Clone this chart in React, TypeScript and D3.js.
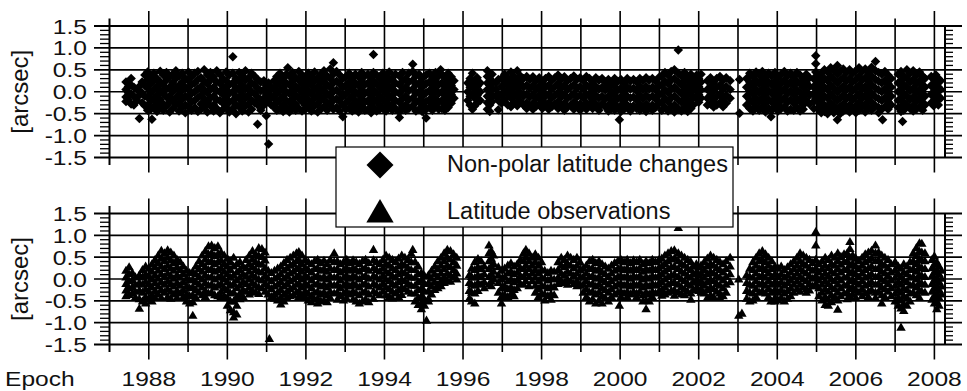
import React from "react";
import * as d3 from "d3";

// ---------- data ----------
// each column: [epoch (year), value1, value2, ...] in arcsec
const nonPolarColumns: number[][] = [
  [1987.42, 0.22, 0.05, -0.12, -0.22], [1987.48, 0.12, -0.02, -0.18], [1987.55, 0.3, 0.15, -0.05, -0.28],
  [1987.62, 0.1, -0.1, -0.3], [1987.7, 0.05, -0.2], [1987.76, -0.61, 0.12, -0.08], [1987.83, 0.22, -0.02, -0.25],
  [1987.9, 0.38, 0.15, -0.1, -0.32], [1987.97, 0.45, 0.28, 0.08, -0.12, -0.3, -0.42], [1988.05, 0.35, 0.18, -0.02, -0.2, -0.4],
  [1988.08, -0.63], [1988.13, 0.42, 0.25, 0.05, -0.15, -0.33], [1988.21, 0.3, 0.12, -0.08, -0.25, -0.45],
  [1988.29, 0.47, 0.22, 0.02, -0.18, -0.36], [1988.37, 0.38, 0.15, -0.05, -0.28, -0.42], [1988.45, 0.44, 0.26, 0.06, -0.12, -0.32],
  [1988.53, 0.33, 0.1, -0.1, -0.24, -0.46], [1988.61, 0.4, 0.2, 0.0, -0.2, -0.38], [1988.69, 0.48, 0.3, 0.08, -0.14, -0.3],
  [1988.77, 0.36, 0.14, -0.06, -0.26, -0.44], [1988.85, 0.42, 0.22, 0.03, -0.17, -0.35], [1988.93, 0.3, 0.1, -0.1, -0.3, -0.48],
  [1989.01, 0.45, 0.25, 0.05, -0.15, -0.34], [1989.09, 0.35, 0.16, -0.04, -0.22, -0.42], [1989.17, 0.42, 0.2, 0.0, -0.2, -0.36],
  [1989.25, 0.46, 0.28, 0.07, -0.13, -0.45], [1989.33, 0.32, 0.12, -0.08, -0.28, -0.4], [1989.41, 0.5, 0.24, 0.04, -0.16, -0.34],
  [1989.49, 0.38, 0.18, -0.02, -0.22, -0.46], [1989.57, 0.44, 0.26, 0.06, -0.14, -0.32], [1989.65, 0.34, 0.1, -0.1, -0.3, -0.44],
  [1989.73, 0.48, 0.22, 0.02, -0.18, -0.38], [1989.81, 0.4, 0.2, 0.0, -0.2, -0.48], [1989.89, 0.3, 0.12, -0.06, -0.26, -0.4],
  [1989.97, 0.45, 0.25, 0.05, -0.15, -0.36], [1990.05, 0.38, 0.16, -0.04, -0.24, -0.46], [1990.14, 0.8, 0.42, 0.2, 0.0, -0.2, -0.38],
  [1990.22, 0.3, 0.1, -0.1, -0.3, -0.5], [1990.3, 0.44, 0.24, 0.04, -0.16, -0.34], [1990.38, 0.36, 0.14, -0.06, -0.26, -0.44],
  [1990.46, 0.48, 0.26, 0.06, -0.14, -0.32], [1990.54, 0.32, 0.12, -0.08, -0.28, -0.46], [1990.62, 0.42, 0.2, 0.0, -0.2, -0.4],
  [1990.7, 0.35, 0.15, -0.05, -0.25], [1990.77, -0.74, 0.28, 0.08, -0.12, -0.3], [1990.85, 0.22, 0.02, -0.18, -0.42],
  [1990.93, 0.25, 0.05, -0.15, -0.3], [1990.99, -0.55, 0.15, -0.05, -0.25], [1991.05, -1.19, 0.2, 0.0, -0.2],
  [1991.12, 0.1, -0.1, -0.3], [1991.19, 0.25, 0.05, -0.15, -0.35], [1991.26, 0.35, 0.15, -0.05, -0.25, -0.42],
  [1991.34, 0.42, 0.22, 0.02, -0.18, -0.38], [1991.42, 0.3, 0.1, -0.1, -0.3, -0.45], [1991.5, 0.4, 0.2, 0.0, -0.2, -0.36],
  [1991.54, 0.55], [1991.58, 0.36, 0.16, -0.04, -0.24, -0.46], [1991.66, 0.44, 0.24, 0.04, -0.16, -0.34],
  [1991.74, 0.32, 0.12, -0.08, -0.28, -0.42], [1991.82, 0.46, 0.26, 0.06, -0.14, -0.38], [1991.9, 0.38, 0.18, -0.02, -0.22, -0.44],
  [1991.98, 0.3, 0.1, -0.1, -0.3, -0.4], [1992.06, 0.42, 0.22, 0.02, -0.18, -0.36], [1992.14, 0.35, 0.15, -0.05, -0.25, -0.44],
  [1992.22, 0.45, 0.25, 0.05, -0.15, -0.32], [1992.3, 0.32, 0.12, -0.08, -0.28, -0.46], [1992.38, 0.4, 0.2, 0.0, -0.2, -0.4],
  [1992.46, 0.48, 0.28, 0.08, -0.12, -0.34], [1992.54, 0.36, 0.16, -0.04, -0.24, -0.42], [1992.62, 0.52, 0.3, 0.1, -0.1, -0.3],
  [1992.7, 0.66, 0.4, 0.2, 0.0, -0.2, -0.4], [1992.78, 0.46, 0.24, 0.04, -0.16, -0.36], [1992.86, 0.38, 0.18, -0.02, -0.22, -0.44],
  [1992.94, -0.57, 0.3, 0.1, -0.1, -0.3], [1993.02, 0.35, 0.15, -0.05, -0.25, -0.4], [1993.1, 0.42, 0.22, 0.02, -0.18, -0.38],
  [1993.18, 0.3, 0.1, -0.1, -0.3, -0.44], [1993.26, 0.4, 0.2, 0.0, -0.2, -0.36], [1993.34, 0.34, 0.14, -0.06, -0.26, -0.46],
  [1993.42, 0.44, 0.24, 0.04, -0.16, -0.34], [1993.5, 0.36, 0.16, -0.04, -0.24, -0.42], [1993.58, 0.4, 0.2, 0.0, -0.2, -0.4],
  [1993.66, 0.32, 0.12, -0.08, -0.28, -0.48], [1993.72, 0.85, 0.44, 0.24, 0.04, -0.16, -0.36], [1993.8, 0.38, 0.18, -0.02, -0.22, -0.44],
  [1993.88, 0.3, 0.1, -0.1, -0.3, -0.4], [1993.96, 0.42, 0.22, 0.02, -0.18, -0.38], [1994.04, 0.35, 0.15, -0.05, -0.25, -0.44],
  [1994.12, 0.45, 0.25, 0.05, -0.15, -0.34], [1994.2, 0.32, 0.12, -0.08, -0.28, -0.42], [1994.28, 0.4, 0.2, 0.0, -0.2, -0.38],
  [1994.38, -0.59, 0.36, 0.16, -0.04, -0.24, -0.46], [1994.46, 0.44, 0.24, 0.04, -0.16, -0.34], [1994.54, 0.3, 0.1, -0.1, -0.3, -0.42],
  [1994.62, 0.42, 0.22, 0.02, -0.18, -0.38], [1994.72, 0.63, 0.46, 0.26, 0.06, -0.14, -0.32], [1994.8, 0.36, 0.16, -0.04, -0.24, -0.44],
  [1994.88, 0.4, 0.2, 0.0, -0.2, -0.4], [1994.96, 0.3, 0.1, -0.1, -0.3, -0.45], [1995.06, -0.6, 0.38, 0.18, -0.02, -0.22, -0.4],
  [1995.14, 0.42, 0.22, 0.02, -0.18, -0.36], [1995.22, 0.34, 0.14, -0.06, -0.26, -0.42], [1995.3, 0.44, 0.24, 0.04, -0.16, -0.34],
  [1995.38, 0.36, 0.16, -0.04, -0.24, -0.4], [1995.43, 0.5], [1995.46, 0.4, 0.2, 0.0, -0.2, -0.38],
  [1995.54, 0.32, 0.12, -0.08, -0.28, -0.42], [1995.62, 0.42, 0.22, 0.02, -0.18, -0.36], [1995.7, 0.34, 0.14, -0.06, -0.26],
  [1995.77, 0.25, 0.05, -0.15], [1996.12, 0.2, 0.0, -0.2], [1996.18, 0.3, 0.1, -0.1, -0.3],
  [1996.24, 0.42, 0.18, -0.05, -0.4], [1996.3, 0.25, 0.05, -0.15, -0.32], [1996.36, 0.32, 0.12, -0.08, -0.25],
  [1996.44, 0.2, 0.0, -0.2], [1996.62, 0.48, 0.35, 0.2, 0.05, -0.1, -0.25, -0.4], [1996.68, 0.3, 0.15, 0.0, -0.15, -0.3, -0.45],
  [1996.74, 0.4, 0.22, 0.08, -0.08, -0.22], [1996.84, 0.2, 0.05, -0.1], [1996.9, 0.28, -0.05, -0.2, -0.41],
  [1996.98, 0.3, 0.12, -0.08, -0.26], [1997.06, 0.4, 0.22, 0.02, -0.18], [1997.14, 0.32, 0.14, -0.06, -0.3],
  [1997.22, 0.45, 0.26, 0.06, -0.14, -0.34], [1997.3, 0.35, 0.16, -0.04, -0.24], [1997.38, 0.48, 0.28, 0.08, -0.12, -0.32],
  [1997.46, 0.36, 0.18, -0.02, -0.22], [1997.54, 0.3, 0.1, -0.1, -0.3], [1997.62, 0.35, 0.15, -0.05, -0.25, -0.38],
  [1997.7, 0.28, 0.08, -0.12, -0.32], [1997.78, 0.34, 0.14, -0.06, -0.26, -0.4], [1997.86, 0.25, 0.05, -0.15, -0.33],
  [1997.94, 0.32, 0.12, -0.08, -0.28], [1998.02, 0.2, 0.0, -0.2, -0.38], [1998.1, 0.3, 0.1, -0.1, -0.3],
  [1998.18, 0.35, 0.15, -0.05, -0.25, -0.4], [1998.26, 0.26, 0.06, -0.14, -0.34], [1998.34, 0.32, 0.12, -0.08, -0.28],
  [1998.42, 0.38, 0.18, -0.02, -0.22, -0.38], [1998.5, 0.28, 0.08, -0.12, -0.32], [1998.58, 0.34, 0.14, -0.06, -0.26, -0.42],
  [1998.66, 0.25, 0.05, -0.15, -0.35], [1998.74, 0.3, 0.1, -0.1, -0.3], [1998.82, 0.36, 0.16, -0.04, -0.24, -0.4],
  [1998.9, 0.28, 0.08, -0.12, -0.3], [1998.98, 0.32, 0.12, -0.08, -0.28, -0.42], [1999.06, 0.26, 0.06, -0.14, -0.34],
  [1999.14, 0.35, 0.15, -0.05, -0.25, -0.4], [1999.22, 0.3, 0.1, -0.1, -0.3], [1999.3, 0.22, 0.02, -0.18, -0.38],
  [1999.38, 0.32, 0.12, -0.08, -0.28], [1999.46, 0.26, 0.06, -0.14, -0.34, -0.42], [1999.54, 0.3, 0.1, -0.1, -0.28],
  [1999.62, 0.22, 0.04, -0.16, -0.34], [1999.7, 0.28, 0.1, -0.1, -0.3, -0.44], [1999.78, 0.2, 0.0, -0.2, -0.38],
  [1999.86, 0.3, 0.12, -0.08, -0.28, -0.42], [1999.94, 0.24, 0.04, -0.16, -0.36], [1999.98, -0.64],
  [2000.02, 0.28, 0.08, -0.12, -0.32, -0.45], [2000.1, 0.2, 0.0, -0.2, -0.4], [2000.18, 0.3, 0.1, -0.1, -0.3],
  [2000.26, 0.24, 0.06, -0.14, -0.34, -0.44], [2000.34, 0.28, 0.08, -0.12, -0.32], [2000.42, 0.22, 0.02, -0.18, -0.38],
  [2000.5, 0.3, 0.12, -0.08, -0.28, -0.42], [2000.58, 0.25, 0.05, -0.15, -0.35], [2000.66, 0.32, 0.12, -0.08, -0.28, -0.45],
  [2000.74, 0.26, 0.06, -0.14, -0.34], [2000.82, 0.3, 0.1, -0.1, -0.3, -0.42], [2000.9, 0.24, 0.04, -0.16, -0.36],
  [2000.98, 0.32, 0.12, -0.08, -0.28], [2001.06, 0.36, 0.16, -0.04, -0.24, -0.42], [2001.14, 0.44, 0.24, 0.04, -0.16, -0.36],
  [2001.22, 0.38, 0.18, -0.02, -0.22, -0.44], [2001.3, 0.46, 0.26, 0.06, -0.14, -0.34], [2001.38, 0.5, 0.3, 0.1, -0.1, -0.3, -0.46],
  [2001.48, 0.95, 0.42, 0.22, 0.02, -0.18, -0.38], [2001.56, 0.36, 0.16, -0.04, -0.24, -0.44], [2001.64, 0.44, 0.24, 0.04, -0.16, -0.36],
  [2001.72, 0.32, 0.12, -0.08, -0.28, -0.45], [2001.8, 0.4, 0.2, 0.0, -0.2, -0.38], [2001.86, 0.3, 0.1, -0.1, -0.3],
  [2001.95, 0.38, 0.2, 0.02, -0.15], [2002.0, 0.3, 0.12, -0.06, -0.24], [2002.06, 0.4, 0.22, 0.04, -0.14],
  [2002.22, 0.25, 0.05, -0.15, -0.3], [2002.3, 0.32, 0.12, -0.08, -0.28], [2002.38, 0.22, 0.02, -0.18, -0.35],
  [2002.46, 0.3, 0.1, -0.1, -0.3], [2002.54, 0.35, 0.15, -0.05, -0.25], [2002.62, 0.26, 0.06, -0.14, -0.34],
  [2002.7, 0.32, 0.12, -0.08, -0.26], [2002.8, 0.25, 0.05, -0.15], [2003.04, 0.28, -0.49],
  [2003.22, 0.3, 0.1, -0.1, -0.3], [2003.3, 0.42, 0.22, 0.02, -0.18, -0.38], [2003.38, 0.35, 0.15, -0.05, -0.25, -0.44],
  [2003.46, 0.45, 0.25, 0.05, -0.15, -0.35], [2003.54, 0.38, 0.18, -0.02, -0.22, -0.42], [2003.62, 0.46, 0.26, 0.06, -0.14, -0.34],
  [2003.7, 0.34, 0.14, -0.06, -0.26, -0.46], [2003.78, 0.42, 0.22, 0.02, -0.18, -0.38], [2003.84, -0.57],
  [2003.86, 0.36, 0.16, -0.04, -0.24, -0.42], [2003.94, 0.44, 0.24, 0.04, -0.16, -0.36], [2004.02, 0.32, 0.12, -0.08, -0.28, -0.44],
  [2004.1, 0.4, 0.2, 0.0, -0.2, -0.38], [2004.18, 0.46, 0.26, 0.06, -0.14, -0.34], [2004.26, 0.36, 0.16, -0.04, -0.24, -0.44],
  [2004.34, 0.42, 0.22, 0.02, -0.18, -0.4], [2004.42, 0.34, 0.14, -0.06, -0.26, -0.42], [2004.5, 0.44, 0.24, 0.04, -0.16, -0.36],
  [2004.58, 0.38, 0.18, -0.02, -0.22, -0.44], [2004.66, 0.3, 0.1, -0.1, -0.3, -0.4], [2004.74, 0.4, 0.2, 0.0, -0.2],
  [2004.82, 0.32, 0.12, -0.08, -0.28], [2004.93, 0.3, 0.12, -0.05, -0.22, -0.38], [2004.98, 0.82, 0.64, 0.45, 0.25, 0.05, -0.15],
  [2005.05, 0.35, 0.15, -0.05, -0.25, -0.4], [2005.12, 0.42, 0.22, 0.02, -0.18, -0.38, -0.48], [2005.2, 0.5, 0.3, 0.1, -0.1, -0.3, -0.45],
  [2005.28, 0.45, 0.25, 0.05, -0.15, -0.35, -0.5], [2005.36, 0.55, 0.35, 0.15, -0.05, -0.25, -0.42], [2005.44, 0.48, 0.28, 0.08, -0.12, -0.32, -0.48],
  [2005.53, -0.64, 0.6, 0.4, 0.2, 0.0, -0.2, -0.4], [2005.6, 0.46, 0.26, 0.06, -0.14, -0.34, -0.5], [2005.68, 0.52, 0.32, 0.12, -0.08, -0.28, -0.44],
  [2005.76, 0.44, 0.24, 0.04, -0.16, -0.36], [2005.84, 0.5, 0.3, 0.1, -0.1, -0.3, -0.46], [2005.92, 0.42, 0.22, 0.02, -0.18, -0.38],
  [2006.0, 0.48, 0.28, 0.08, -0.12, -0.32, -0.48], [2006.08, 0.55, 0.35, 0.15, -0.05, -0.25, -0.42], [2006.16, 0.46, 0.26, 0.06, -0.14, -0.34],
  [2006.24, 0.52, 0.32, 0.12, -0.08, -0.28, -0.46], [2006.32, 0.44, 0.24, 0.04, -0.16, -0.36], [2006.4, 0.56, 0.36, 0.16, -0.04, -0.24, -0.42],
  [2006.5, 0.69, 0.48, 0.28, 0.08, -0.12, -0.32], [2006.58, 0.44, 0.24, 0.04, -0.16, -0.36, -0.48], [2006.66, 0.4, 0.2, 0.0, -0.2, -0.4],
  [2006.68, -0.64], [2006.74, 0.46, 0.26, 0.06, -0.14, -0.34], [2006.82, 0.38, 0.18, -0.02, -0.22, -0.4],
  [2006.9, 0.3, 0.1, -0.1, -0.3], [2007.08, 0.4, 0.2, 0.0, -0.2, -0.36], [2007.15, 0.46, 0.26, 0.06, -0.14, -0.34, -0.45],
  [2007.19, -0.68], [2007.22, 0.36, 0.16, -0.04, -0.24, -0.42], [2007.3, 0.5, 0.3, 0.1, -0.1, -0.3],
  [2007.38, 0.42, 0.22, 0.02, -0.18, -0.38], [2007.46, 0.48, 0.28, 0.08, -0.12, -0.32, -0.44], [2007.54, 0.38, 0.18, -0.02, -0.22, -0.4],
  [2007.62, 0.45, 0.25, 0.05, -0.15, -0.35], [2007.7, 0.36, 0.16, -0.04, -0.24, -0.42], [2007.76, 0.3, 0.1, -0.1, -0.3],
  [2007.92, 0.35, 0.15, -0.05, -0.25], [2007.98, 0.28, 0.08, -0.12, -0.32], [2008.04, 0.38, 0.18, -0.02, -0.22],
  [2008.1, 0.3, 0.1, -0.1, -0.3], [2008.16, 0.25, 0.05, -0.15],
];

const observationColumns: number[][] = [
  [1987.42, 0.2, 0.05, -0.1, -0.25, -0.38], [1987.5, 0.28, 0.12, -0.04, -0.2, -0.35], [1987.58, 0.15, -0.02, -0.18, -0.32],
  [1987.66, 0.05, -0.12, -0.28, -0.41], [1987.76, -0.67, 0.1, -0.08, -0.25, -0.45], [1987.84, 0.22, 0.05, -0.12, -0.3, -0.5],
  [1987.92, 0.3, 0.12, -0.05, -0.22, -0.4, -0.55], [1988.0, 0.25, 0.08, -0.1, -0.28, -0.45], [1988.08, 0.35, 0.18, 0.0, -0.18, -0.36, -0.5],
  [1988.16, 0.45, 0.28, 0.1, -0.08, -0.26, -0.42], [1988.24, 0.55, 0.38, 0.2, 0.02, -0.16, -0.34], [1988.32, 0.66, 0.48, 0.3, 0.12, -0.06, -0.24, -0.42],
  [1988.4, 0.6, 0.42, 0.24, 0.06, -0.12, -0.3], [1988.48, 0.67, 0.5, 0.32, 0.14, -0.04, -0.22, -0.4], [1988.56, 0.62, 0.44, 0.26, 0.08, -0.1, -0.28, -0.44],
  [1988.64, 0.55, 0.38, 0.2, 0.02, -0.16, -0.34], [1988.72, 0.45, 0.28, 0.1, -0.08, -0.26, -0.42], [1988.8, 0.4, 0.22, 0.04, -0.14, -0.32],
  [1988.88, 0.3, 0.12, -0.06, -0.24, -0.4], [1988.96, 0.2, 0.02, -0.16, -0.34, -0.5], [1989.04, 0.15, -0.02, -0.2, -0.38, -0.55],
  [1989.12, -0.83, 0.18, 0.0, -0.18, -0.36, -0.52], [1989.2, 0.3, 0.12, -0.06, -0.24, -0.42], [1989.28, 0.42, 0.24, 0.06, -0.12, -0.3],
  [1989.36, 0.55, 0.36, 0.18, 0.0, -0.18, -0.36], [1989.44, 0.65, 0.46, 0.28, 0.1, -0.08, -0.26, -0.4], [1989.52, 0.76, 0.58, 0.4, 0.22, 0.04, -0.14, -0.32],
  [1989.6, 0.78, 0.6, 0.42, 0.24, 0.06, -0.12, -0.3], [1989.68, 0.72, 0.54, 0.36, 0.18, 0.0, -0.18, -0.36], [1989.76, 0.76, 0.58, 0.4, 0.22, 0.04, -0.14, -0.38],
  [1989.84, 0.62, 0.44, 0.26, 0.08, -0.1, -0.28, -0.4], [1989.92, 0.55, 0.36, 0.18, 0.0, -0.2, -0.38], [1990.0, 0.48, 0.3, 0.12, -0.06, -0.24, -0.42, -0.6],
  [1990.08, 0.4, 0.22, 0.04, -0.14, -0.32, -0.5, -0.7], [1990.16, 0.5, 0.3, 0.1, -0.1, -0.3, -0.5, -0.75, -0.87], [1990.24, 0.35, 0.16, -0.02, -0.2, -0.4, -0.6, -0.8],
  [1990.32, 0.4, 0.22, 0.04, -0.14, -0.32, -0.45], [1990.4, 0.3, 0.12, -0.06, -0.24, -0.4], [1990.48, 0.45, 0.26, 0.08, -0.1, -0.28],
  [1990.56, 0.55, 0.36, 0.18, 0.0, -0.18, -0.34], [1990.64, 0.65, 0.46, 0.28, 0.1, -0.08, -0.26], [1990.72, 0.58, 0.4, 0.22, 0.04, -0.14, -0.3],
  [1990.8, 0.72, 0.54, 0.36, 0.18, 0.0, -0.18, -0.33], [1990.88, 0.7, 0.52, 0.34, 0.16, -0.02, -0.2], [1990.96, 0.62, 0.44, 0.26, 0.08, -0.1, -0.28],
  [1991.04, 0.2, 0.02, -0.16, -0.34], [1991.07, -1.36], [1991.12, 0.15, -0.04, -0.22, -0.4],
  [1991.2, 0.2, 0.02, -0.16, -0.34, -0.44], [1991.28, 0.25, 0.06, -0.12, -0.3, -0.48], [1991.36, 0.3, 0.12, -0.06, -0.24, -0.42, -0.57],
  [1991.44, 0.38, 0.2, 0.02, -0.16, -0.34, -0.5], [1991.52, 0.45, 0.26, 0.08, -0.1, -0.28, -0.42], [1991.6, 0.5, 0.32, 0.14, -0.04, -0.22, -0.38],
  [1991.68, 0.55, 0.36, 0.18, 0.0, -0.18, -0.36], [1991.76, 0.6, 0.42, 0.24, 0.06, -0.12, -0.3], [1991.82, 0.63, 0.45, 0.27, 0.09, -0.09, -0.27, -0.4],
  [1991.9, 0.55, 0.36, 0.18, 0.0, -0.18, -0.36], [1991.98, 0.45, 0.26, 0.08, -0.1, -0.28, -0.4], [1992.06, 0.4, 0.22, 0.04, -0.14, -0.32, -0.48],
  [1992.14, 0.35, 0.16, -0.02, -0.2, -0.38, -0.52], [1992.22, 0.42, 0.24, 0.06, -0.12, -0.3, -0.46], [1992.3, 0.45, 0.26, 0.08, -0.1, -0.28, -0.44, -0.55],
  [1992.38, 0.38, 0.2, 0.02, -0.16, -0.34, -0.5], [1992.46, 0.43, 0.24, 0.06, -0.12, -0.3, -0.48], [1992.54, 0.36, 0.18, 0.0, -0.18, -0.36, -0.52],
  [1992.62, 0.45, 0.26, 0.08, -0.1, -0.28, -0.42], [1992.72, 0.6, 0.4, 0.22, 0.04, -0.14, -0.32], [1992.8, 0.42, 0.24, 0.06, -0.12, -0.3, -0.46],
  [1992.88, 0.35, 0.16, -0.02, -0.2, -0.38], [1992.96, 0.4, 0.22, 0.04, -0.14, -0.32, -0.48], [1993.04, 0.45, 0.26, 0.08, -0.1, -0.28, -0.44],
  [1993.12, 0.38, 0.2, 0.02, -0.16, -0.34], [1993.2, 0.44, 0.26, 0.08, -0.1, -0.28, -0.46], [1993.28, 0.4, 0.22, 0.04, -0.14, -0.32, -0.5],
  [1993.36, 0.36, 0.18, 0.0, -0.18, -0.36, -0.55], [1993.44, 0.42, 0.24, 0.06, -0.12, -0.3, -0.5], [1993.52, 0.45, 0.26, 0.08, -0.1, -0.28, -0.46],
  [1993.6, 0.38, 0.2, 0.02, -0.16, -0.34, -0.52], [1993.72, 0.68, 0.44, 0.26, 0.08, -0.1, -0.28, -0.44], [1993.8, 0.4, 0.22, 0.04, -0.14, -0.32],
  [1993.88, 0.36, 0.18, 0.0, -0.18, -0.36], [1993.96, 0.45, 0.26, 0.08, -0.1, -0.28], [1994.04, 0.55, 0.36, 0.18, 0.0, -0.18, -0.36],
  [1994.12, 0.5, 0.32, 0.14, -0.04, -0.22, -0.4], [1994.2, 0.45, 0.26, 0.08, -0.1, -0.28, -0.43], [1994.28, 0.4, 0.22, 0.04, -0.14, -0.32],
  [1994.36, 0.48, 0.3, 0.12, -0.06, -0.24, -0.4], [1994.44, 0.55, 0.36, 0.18, 0.0, -0.18, -0.35], [1994.52, 0.5, 0.32, 0.14, -0.04, -0.22],
  [1994.6, 0.45, 0.26, 0.08, -0.1, -0.28], [1994.68, 0.59, 0.4, 0.22, 0.04, -0.14, -0.32], [1994.72, 0.68],
  [1994.78, 0.4, 0.22, 0.04, -0.14, -0.32, -0.5], [1994.86, 0.3, 0.12, -0.06, -0.24, -0.42, -0.58], [1994.94, 0.15, -0.02, -0.2, -0.38, -0.55, -0.68],
  [1995.02, 0.08, -0.1, -0.28, -0.46, -0.6], [1995.07, -0.94], [1995.12, 0.1, -0.08, -0.26, -0.44, -0.5],
  [1995.2, 0.2, 0.02, -0.16, -0.34], [1995.28, 0.3, 0.12, -0.06, -0.24], [1995.36, 0.42, 0.24, 0.06, -0.12, -0.2],
  [1995.44, 0.5, 0.32, 0.14, -0.04, -0.15], [1995.52, 0.6, 0.42, 0.24, 0.06, -0.08], [1995.6, 0.68, 0.5, 0.32, 0.14, -0.04],
  [1995.68, 0.65, 0.46, 0.28, 0.1, -0.05], [1995.76, 0.58, 0.4, 0.22, 0.05], [1995.84, 0.5, 0.32, 0.14, 0.0],
  [1996.16, 0.1, -0.08, -0.26, -0.44], [1996.22, 0.25, 0.06, -0.12, -0.3, -0.5], [1996.3, 0.4, 0.22, 0.04, -0.14, -0.32, -0.55],
  [1996.38, 0.47, 0.28, 0.1, -0.08, -0.26], [1996.46, 0.42, 0.24, 0.06, -0.12], [1996.54, 0.3, 0.12, -0.06, -0.2],
  [1996.66, 0.78, 0.6, 0.42, 0.24, 0.06, -0.12], [1996.72, 0.65, 0.48, 0.3, 0.12, -0.05, -0.15], [1996.78, 0.55, 0.36, 0.18, 0.0],
  [1996.9, 0.28, 0.1, -0.08, -0.3], [1996.98, 0.2, 0.0, -0.2, -0.4, -0.55], [1997.06, 0.25, 0.05, -0.15, -0.35],
  [1997.14, 0.32, 0.14, -0.04, -0.22, -0.4], [1997.22, 0.37, 0.18, 0.0, -0.18, -0.34], [1997.3, 0.3, 0.12, -0.06, -0.24, -0.38],
  [1997.38, 0.35, 0.16, -0.02, -0.2], [1997.46, 0.45, 0.26, 0.08, -0.1], [1997.54, 0.6, 0.42, 0.24, 0.06, -0.12],
  [1997.6, 0.68, 0.5, 0.32, 0.14, -0.04], [1997.68, 0.6, 0.42, 0.24, 0.06, -0.15], [1997.76, 0.5, 0.32, 0.14, -0.04],
  [1997.84, 0.58, 0.4, 0.22, 0.04, -0.14, -0.3], [1997.92, 0.5, 0.32, 0.14, -0.04, -0.22, -0.4], [1998.0, 0.4, 0.22, 0.04, -0.14, -0.32],
  [1998.08, 0.2, 0.02, -0.16, -0.34, -0.48], [1998.16, 0.15, -0.02, -0.2, -0.38], [1998.24, 0.2, 0.02, -0.16, -0.34, -0.46],
  [1998.32, 0.18, 0.0, -0.18, -0.36], [1998.42, 0.4, 0.22, 0.04, -0.1], [1998.5, 0.5, 0.32, 0.14, -0.04],
  [1998.58, 0.45, 0.28, 0.1, -0.08], [1998.66, 0.55, 0.36, 0.18, 0.0, -0.12], [1998.74, 0.5, 0.32, 0.14, -0.04],
  [1998.82, 0.45, 0.26, 0.08, -0.1], [1998.9, 0.5, 0.32, 0.14, -0.04, -0.15], [1998.98, 0.4, 0.22, 0.04, -0.14],
  [1999.06, 0.25, 0.06, -0.12, -0.3], [1999.14, 0.32, 0.14, -0.04, -0.22, -0.4], [1999.22, 0.42, 0.24, 0.06, -0.12, -0.3, -0.5],
  [1999.3, 0.45, 0.26, 0.08, -0.1, -0.28, -0.45], [1999.38, 0.38, 0.2, 0.02, -0.16, -0.34, -0.55], [1999.46, 0.42, 0.24, 0.06, -0.12, -0.3, -0.48],
  [1999.54, 0.35, 0.16, -0.02, -0.2, -0.38, -0.55], [1999.62, 0.3, 0.12, -0.06, -0.24, -0.42], [1999.7, 0.25, 0.06, -0.12, -0.3, -0.5],
  [1999.78, 0.32, 0.14, -0.04, -0.22, -0.4], [1999.86, 0.38, 0.2, 0.02, -0.16, -0.34], [1999.94, 0.42, 0.24, 0.06, -0.12, -0.3],
  [1999.98, -0.6], [2000.02, 0.45, 0.26, 0.08, -0.1, -0.28, -0.4], [2000.1, 0.4, 0.22, 0.04, -0.14, -0.32],
  [2000.18, 0.45, 0.26, 0.08, -0.1, -0.28, -0.4], [2000.26, 0.38, 0.2, 0.02, -0.16, -0.34], [2000.34, 0.44, 0.26, 0.08, -0.1, -0.28],
  [2000.42, 0.4, 0.22, 0.04, -0.14, -0.32, -0.4], [2000.5, 0.45, 0.26, 0.08, -0.1, -0.28], [2000.58, 0.36, 0.18, 0.0, -0.18, -0.36, -0.5],
  [2000.66, 0.42, 0.24, 0.06, -0.12, -0.3, -0.48, -0.68], [2000.74, 0.38, 0.2, 0.02, -0.16, -0.34, -0.5], [2000.82, 0.45, 0.26, 0.08, -0.1, -0.28, -0.4],
  [2000.9, 0.4, 0.22, 0.04, -0.14, -0.32], [2000.98, 0.44, 0.26, 0.08, -0.1, -0.28], [2001.06, 0.48, 0.3, 0.12, -0.06, -0.24, -0.37],
  [2001.14, 0.55, 0.36, 0.18, 0.0, -0.18, -0.34], [2001.22, 0.6, 0.42, 0.24, 0.06, -0.12, -0.3], [2001.3, 0.65, 0.46, 0.28, 0.1, -0.08, -0.26],
  [2001.38, 0.67, 0.48, 0.3, 0.12, -0.06, -0.24, -0.37], [2001.48, 1.18, 0.6, 0.42, 0.24, 0.06, -0.12, -0.3], [2001.56, 0.55, 0.36, 0.18, 0.0, -0.18, -0.34],
  [2001.64, 0.5, 0.32, 0.14, -0.04, -0.22, -0.36], [2001.72, 0.45, 0.26, 0.08, -0.1, -0.28], [2001.8, 0.4, 0.22, 0.04, -0.14, -0.32, -0.46],
  [2001.86, 0.3, 0.12, -0.06, -0.24], [2001.94, 0.35, 0.16, -0.02, -0.2], [2002.0, 0.28, 0.1, -0.08, -0.26],
  [2002.06, 0.32, 0.14, -0.04, -0.22, -0.3], [2002.14, 0.4, 0.22, 0.04, -0.14, -0.32], [2002.22, 0.48, 0.3, 0.12, -0.06, -0.24, -0.42],
  [2002.3, 0.55, 0.36, 0.18, 0.0, -0.18, -0.36], [2002.38, 0.5, 0.32, 0.14, -0.04, -0.22, -0.4], [2002.46, 0.45, 0.26, 0.08, -0.1, -0.28],
  [2002.54, 0.4, 0.22, 0.04, -0.14, -0.32, -0.42], [2002.62, 0.35, 0.16, -0.02, -0.2, -0.38], [2002.7, 0.42, 0.24, 0.06, -0.12, -0.3],
  [2002.8, 0.5, 0.3, 0.12, -0.06], [2003.02, 0.0, -0.83], [2003.1, -0.78],
  [2003.22, 0.1, -0.08, -0.26, -0.44], [2003.3, 0.25, 0.06, -0.12, -0.3, -0.5], [2003.38, 0.4, 0.22, 0.04, -0.14, -0.32, -0.48],
  [2003.46, 0.5, 0.32, 0.14, -0.04, -0.22, -0.4], [2003.54, 0.6, 0.42, 0.24, 0.06, -0.12, -0.3], [2003.62, 0.65, 0.46, 0.28, 0.1, -0.08, -0.26],
  [2003.7, 0.58, 0.4, 0.22, 0.04, -0.14, -0.32], [2003.78, 0.5, 0.32, 0.14, -0.04, -0.22, -0.4], [2003.84, -0.5],
  [2003.86, 0.42, 0.24, 0.06, -0.12, -0.3], [2003.94, 0.3, 0.12, -0.06, -0.24, -0.42, -0.5], [2004.02, 0.25, 0.06, -0.12, -0.3, -0.48],
  [2004.1, 0.3, 0.12, -0.06, -0.24, -0.42], [2004.18, 0.22, 0.04, -0.14, -0.32, -0.5], [2004.26, 0.28, 0.1, -0.08, -0.26, -0.44],
  [2004.34, 0.35, 0.16, -0.02, -0.2, -0.38], [2004.42, 0.42, 0.24, 0.06, -0.12, -0.3], [2004.5, 0.5, 0.32, 0.14, -0.04, -0.22],
  [2004.58, 0.6, 0.42, 0.24, 0.06, -0.12, -0.28], [2004.66, 0.55, 0.36, 0.18, 0.0, -0.18], [2004.74, 0.5, 0.32, 0.14, -0.04, -0.22, -0.3],
  [2004.82, 0.45, 0.26, 0.08, -0.1, -0.25], [2004.9, 0.38, 0.2, 0.02, -0.16], [2004.98, 1.09, 0.78, 0.45, 0.26, 0.08, -0.1],
  [2005.06, 0.35, 0.16, -0.02, -0.2, -0.38], [2005.14, 0.42, 0.24, 0.06, -0.12, -0.3, -0.48], [2005.22, 0.5, 0.32, 0.14, -0.04, -0.22, -0.4, -0.58],
  [2005.3, 0.45, 0.26, 0.08, -0.1, -0.28, -0.46, -0.6], [2005.38, 0.55, 0.36, 0.18, 0.0, -0.18, -0.36, -0.52], [2005.46, 0.5, 0.32, 0.14, -0.04, -0.22, -0.4],
  [2005.54, 0.6, 0.42, 0.24, 0.06, -0.12, -0.3, -0.48, -0.69], [2005.62, 0.52, 0.34, 0.16, -0.02, -0.2, -0.38], [2005.7, 0.58, 0.4, 0.22, 0.04, -0.14, -0.32],
  [2005.78, 0.6, 0.42, 0.24, 0.06, -0.12, -0.3, -0.45], [2005.85, 0.86, 0.7, 0.5, 0.32, 0.14, -0.04, -0.22, -0.4], [2005.92, 0.55, 0.36, 0.18, 0.0, -0.18, -0.34],
  [2006.0, 0.48, 0.3, 0.12, -0.06, -0.24, -0.42], [2006.08, 0.42, 0.24, 0.06, -0.12, -0.3], [2006.16, 0.5, 0.32, 0.14, -0.04, -0.22, -0.38],
  [2006.24, 0.58, 0.4, 0.22, 0.04, -0.14, -0.32], [2006.32, 0.62, 0.44, 0.26, 0.08, -0.1, -0.28, -0.4], [2006.4, 0.66, 0.48, 0.3, 0.12, -0.06, -0.24],
  [2006.5, 0.78, 0.6, 0.42, 0.24, 0.06, -0.12, -0.3, -0.42], [2006.58, 0.62, 0.44, 0.26, 0.08, -0.1, -0.28], [2006.66, 0.55, 0.36, 0.18, 0.0, -0.18, -0.36, -0.55],
  [2006.74, 0.5, 0.32, 0.14, -0.04, -0.22, -0.4], [2006.82, 0.45, 0.26, 0.08, -0.1, -0.28], [2006.9, 0.35, 0.16, -0.02, -0.2, -0.38],
  [2007.0, 0.4, 0.22, 0.04, -0.14, -0.32, -0.5], [2007.08, 0.3, 0.12, -0.06, -0.24, -0.42, -0.6], [2007.15, -1.1, 0.25, 0.06, -0.12, -0.3, -0.48, -0.66],
  [2007.22, 0.35, 0.16, -0.02, -0.2, -0.38, -0.56, -0.72], [2007.3, 0.3, 0.12, -0.06, -0.24, -0.42, -0.6], [2007.38, 0.4, 0.22, 0.04, -0.14, -0.32, -0.5],
  [2007.46, 0.6, 0.42, 0.24, 0.06, -0.12, -0.3], [2007.54, 0.72, 0.54, 0.36, 0.18, 0.0, -0.18, -0.36], [2007.62, 0.83, 0.64, 0.46, 0.28, 0.1, -0.08, -0.26, -0.42],
  [2007.68, 0.82, 0.62, 0.44, 0.26, 0.08, -0.1, -0.28], [2007.76, 0.6, 0.42, 0.24, 0.06, -0.12, -0.3], [2007.94, 0.45, 0.26, 0.08, -0.1, -0.28, -0.46],
  [2008.0, 0.53, 0.34, 0.16, -0.02, -0.2, -0.38, -0.55], [2008.06, 0.4, 0.22, 0.04, -0.14, -0.32, -0.5, -0.68], [2008.12, 0.3, 0.12, -0.06, -0.24, -0.42, -0.6],
  [2008.18, 0.2, 0.02, -0.16, -0.34],
];

const yTickValues = [-1.5, -1.0, -0.5, 0.0, 0.5, 1.0, 1.5];
const yearLabels = [1988, 1990, 1992, 1994, 1996, 1998, 2000, 2002, 2004, 2006, 2008];
const gridYears = d3.range(1987, 2009);
const legendLabels = ["Non-polar latitude changes", "Latitude observations"];
const axisLabel = "[arcsec]";
const xTitle = "Epoch";

// ---------- layout ----------
const W = 967;
const H = 391;
const FONT = "'Liberation Sans', Arial, Helvetica, sans-serif";
const TICK_FS = 21;
const STRETCH = 1.17;

const x = d3.scaleLinear().domain([1987, 2008.27]).range([109.5, 945]);
const panels = [
  { key: "np", y: d3.scaleLinear().domain([-1.5, 1.5]).range([157.5, 26]), data: nonPolarColumns, shape: "diamond" },
  { key: "obs", y: d3.scaleLinear().domain([-1.5, 1.5]).range([344.5, 213.5]), data: observationColumns, shape: "triangle" },
];

const diamondType = {
  draw(ctx: any, size: number) {
    const r = Math.sqrt(size) / 2;
    ctx.moveTo(0, -r); ctx.lineTo(r, 0); ctx.lineTo(0, r); ctx.lineTo(-r, 0); ctx.closePath();
  },
};
const triangleType = {
  draw(ctx: any, size: number) {
    const r = Math.sqrt(size) / 2;
    ctx.moveTo(0, -r); ctx.lineTo(r * 1.05, r * 0.8); ctx.lineTo(-r * 1.05, r * 0.8); ctx.closePath();
  },
};
const markerPath = (shape: string, s: number) =>
  d3.symbol(shape === "diamond" ? (diamondType as any) : (triangleType as any), s * s)() as string;

function flatten(cols: number[][]) {
  const out: { t: number; v: number }[] = [];
  cols.forEach((c) => c.slice(1).forEach((v) => out.push({ t: c[0], v })));
  return out;
}

function Label({ x: tx, y: ty, anchor, children, fs = TICK_FS }: any) {
  return (
    <text transform={`translate(${tx},${ty}) scale(${STRETCH},1)`} textAnchor={anchor}
      fontSize={fs} fontFamily={FONT} fill="#111">{children}</text>
  );
}

function Panel({ p }: { p: (typeof panels)[number] }) {
  const y = p.y;
  const [yBottom, yTop] = y.range();
  const x0 = x.range()[0];
  const x1 = x.range()[1];
  const minorTicks = d3.range(-15, 16).filter((i) => i % 5 !== 0).map((i) => i / 10);
  const pts = flatten(p.data);
  const msize = p.shape === "diamond" ? 9.5 : 9;
  const mp = markerPath(p.shape, msize);
  return (
    <g>
      {gridYears.map((yr) => {
        const ext = yr % 2 === 0 ? 15 : 7.5;
        return (
          <line key={"v" + yr} x1={x(yr)} x2={x(yr)} y1={yTop - ext} y2={yBottom + ext}
            stroke="#000" strokeWidth={yr === 1987 ? 2 : 1.6} />
        );
      })}
      <line x1={x1} x2={x1} y1={yTop} y2={yBottom} stroke="#000" strokeWidth={2} />
      {yTickValues.map((v) => (
        <line key={"h" + v} x1={94} x2={962} y1={y(v)} y2={y(v)} stroke="#000"
          strokeWidth={Math.abs(v) === 1.5 ? 2 : 1.6} />
      ))}
      {minorTicks.map((v) => (
        <g key={"m" + v}>
          <line x1={100} x2={x0} y1={y(v)} y2={y(v)} stroke="#000" strokeWidth={1.3} />
          <line x1={x1} x2={953} y1={y(v)} y2={y(v)} stroke="#000" strokeWidth={1.3} />
        </g>
      ))}
      {yTickValues.map((v) => (
        <Label key={"l" + v} x={87} y={y(v) + 7.5} anchor="end">{v.toFixed(1)}</Label>
      ))}
      <text transform={`translate(28,${(yTop + yBottom) / 2}) rotate(-90)`} textAnchor="middle"
        fontSize={24} fontFamily={FONT} fill="#111">{axisLabel}</text>
      {pts.map((d, i) => (
        <path key={i} d={mp} transform={`translate(${x(d.t)},${y(d.v)})`} fill="#000" />
      ))}
    </g>
  );
}

export default function App() {
  const legendX = 336;
  const legendY = 147;
  return (
    <svg width={W} height={H} viewBox={`0 0 ${W} ${H}`}
      style={{ position: "absolute", left: 0, top: 0, background: "#fff" }}>
      <rect x={0} y={0} width={W} height={H} fill="#fff" />
      {panels.map((p) => <Panel key={p.key} p={p} />)}
      <Label x={5} y={386} anchor="start">{xTitle}</Label>
      {yearLabels.map((yr) => (
        <Label key={"x" + yr} x={x(yr)} y={386} anchor="middle">{yr}</Label>
      ))}
      <g>
        <rect x={legendX} y={legendY} width={397} height={80} fill="#fff" stroke="#000" strokeWidth={1.2} />
        <path d={markerPath("diamond", 27)} transform={`translate(380,165)`} fill="#000" />
        <path d={markerPath("triangle", 26)} transform={`translate(380,212)`} fill="#000" />
        <text x={447} y={172} fontSize={23.5} fontFamily={FONT} fill="#111">{legendLabels[0]}</text>
        <text x={447} y={219} fontSize={23.5} fontFamily={FONT} fill="#111">{legendLabels[1]}</text>
      </g>
    </svg>
  );
}
